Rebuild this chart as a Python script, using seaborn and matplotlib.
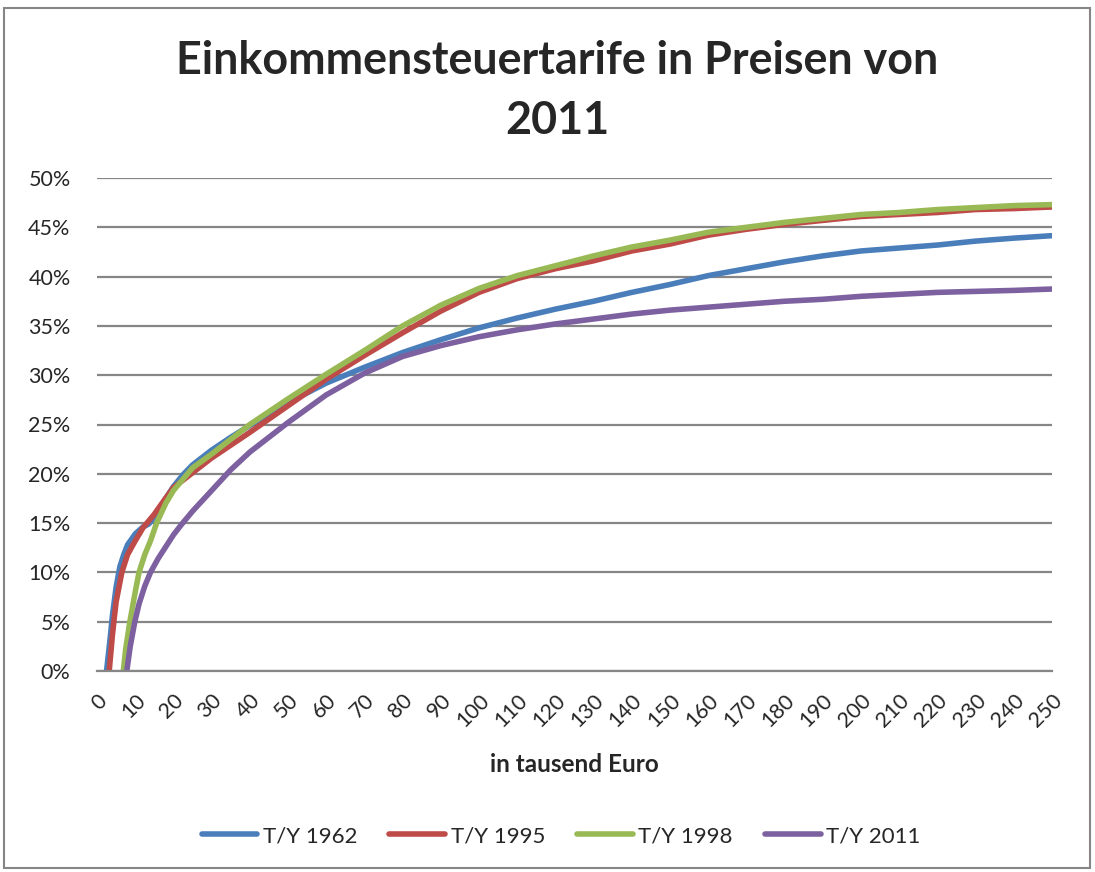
import matplotlib
matplotlib.use("Agg")
import matplotlib.pyplot as plt
import matplotlib.patches as mpatches
from matplotlib.lines import Line2D
import seaborn as sns
import pandas as pd

# ---- data (income in thousand euro, average tax rate in %) ----
x_1962 = [2.5, 3.5, 4, 5, 6, 7, 8, 10, 12, 13.5, 15, 17, 20, 22.5, 25, 30, 35, 40, 50, 60, 70, 80, 90,
          100, 110, 120, 130, 140, 150, 160, 170, 180, 190, 200, 210, 220, 230, 240, 250]
y_1962 = [0, 3.5, 5.5, 8.5, 10.6, 11.8, 12.8, 13.9, 14.6, 14.9, 15.5, 16.9, 18.7, 19.9, 20.9, 22.4, 23.7, 24.9, 27.2, 29.2, 30.8, 32.3, 33.6,
          34.8, 35.8, 36.7, 37.5, 38.4, 39.2, 40.1, 40.8, 41.5, 42.1, 42.6, 42.9, 43.2, 43.6, 43.9, 44.15]

x_1995 = [3.2, 4, 4.5, 5, 6, 6.5, 8, 10, 12, 15, 17, 20, 25, 30, 35, 40, 50, 60, 70, 80, 90,
          100, 110, 120, 130, 140, 150, 160, 170, 180, 190, 200, 210, 220, 230, 240, 250]
y_1995 = [0, 3.5, 5.3, 7.0, 9.0, 10.0, 11.8, 13.2, 14.5, 15.9, 17.0, 18.6, 20.1, 21.6, 22.9, 24.2, 26.9, 29.6, 32.0, 34.3, 36.5,
          38.4, 39.8, 40.8, 41.6, 42.6, 43.3, 44.2, 44.8, 45.3, 45.7, 46.1, 46.3, 46.5, 46.8, 46.9, 47.06]

x_1998 = [6.9, 7.5, 8.6, 10, 11, 12.5, 14, 15.6, 18, 20, 25, 30, 35, 40, 50, 60, 70, 80, 90,
          100, 110, 120, 130, 140, 150, 160, 170, 180, 190, 200, 210, 220, 230, 240, 250]
y_1998 = [0, 2.2, 5.0, 8.0, 10.0, 11.8, 13.2, 15.0, 17.0, 18.3, 20.6, 22.0, 23.5, 25.0, 27.6, 30.1, 32.5, 35.0, 37.1,
          38.8, 40.1, 41.1, 42.1, 43.0, 43.7, 44.5, 45.0, 45.5, 45.9, 46.3, 46.5, 46.8, 47.0, 47.2, 47.3]

x_2011 = [7.8, 8.7, 9.9, 11, 12.5, 14, 16, 18, 20, 22, 25, 30, 35, 40, 50, 60, 70, 80, 90,
          100, 110, 120, 130, 140, 150, 160, 170, 180, 190, 200, 210, 220, 230, 240, 250]
y_2011 = [0, 2.5, 5.0, 6.8, 8.6, 10.0, 11.4, 12.6, 13.8, 14.8, 16.2, 18.3, 20.4, 22.2, 25.2, 28.0, 30.2, 31.9, 33.0,
          33.9, 34.6, 35.2, 35.7, 36.2, 36.6, 36.9, 37.2, 37.5, 37.7, 38.0, 38.2, 38.4, 38.5, 38.6, 38.74]

series_names = ["T/Y 1962", "T/Y 1995", "T/Y 1998", "T/Y 2011"]
colors = ["#4A7EBB", "#BE4B48", "#98B954", "#7D60A0"]
x_ticks = list(range(0, 251, 10))
y_ticks = list(range(0, 51, 5))

title = "Einkommensteuertarife in Preisen von\n2011"
x_label = "in tausend Euro"

frames = []
for name, xs, ys in zip(series_names, [x_1962, x_1995, x_1998, x_2011], [y_1962, y_1995, y_1998, y_2011]):
    frames.append(pd.DataFrame({"x": xs, "y": ys, "series": name}))
df = pd.concat(frames, ignore_index=True)

sns.set_theme(style="white")
plt.rcParams["font.family"] = ["Lato", "DejaVu Sans"]

fig = plt.figure(figsize=(10.95, 8.72), dpi=100)
ax = fig.add_axes([97 / 1095, 1 - 671 / 872, (1052 - 97) / 1095, (671 - 178) / 872])

sns.lineplot(data=df, x="x", y="y", hue="series", palette=dict(zip(series_names, colors)),
             estimator=None, sort=False, linewidth=4.0, ax=ax, legend=False,
             solid_capstyle="round", solid_joinstyle="round")

ax.set_xlim(0, 250)
ax.set_ylim(0, 50)
ax.set_xticks(x_ticks)
ax.set_xticklabels([str(v) for v in x_ticks], rotation=45, ha="right", rotation_mode="anchor", fontsize=15.5)
ax.set_yticks(y_ticks)
ax.set_yticklabels([f"{v}%" for v in y_ticks], fontsize=15.5)
ax.tick_params(axis="both", length=0)
ax.tick_params(axis="y", pad=19)
ax.tick_params(axis="x", pad=14)
ax.grid(axis="y", color="#868686", linewidth=1.6)
ax.grid(axis="x", visible=False)
for s in ["top", "right", "left"]:
    ax.spines[s].set_visible(False)
ax.spines["bottom"].set_color("#868686")
ax.spines["bottom"].set_linewidth(1.6)
ax.set_axisbelow(True)
ax.set_ylabel("")
ax.set_xlabel(x_label, fontsize=17.5, fontweight="bold", labelpad=16)

fig.text(557 / 1095, 1 - 91 / 872, title, ha="center", va="center", fontsize=32.3, fontweight="bold",
         linespacing=1.52)

handles = [Line2D([0], [0], color=c, linewidth=4.0, solid_capstyle="round") for c in colors]
fig.legend(handles, series_names, loc="center", bbox_to_anchor=(561 / 1095, 1 - 836 / 872), ncol=4,
           frameon=False, fontsize=16, handlelength=2.5, columnspacing=1.45, handletextpad=0.25)

fig.patches.append(mpatches.Rectangle((4 / 1095, 4 / 872), 1086 / 1095, 860 / 872, transform=fig.transFigure,
                                      fill=False, edgecolor="#868686", linewidth=1.5))

fig.savefig("out.png", dpi=100)
